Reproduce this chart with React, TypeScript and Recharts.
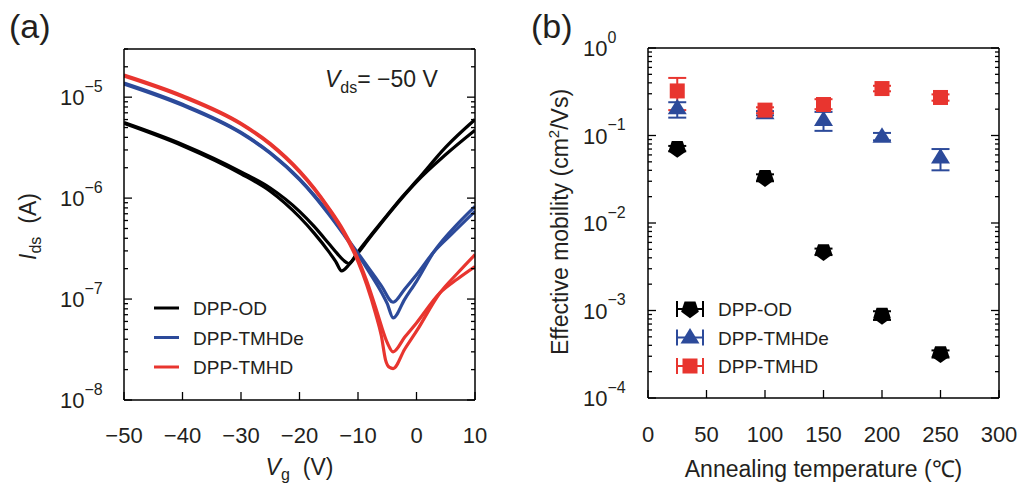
import React from 'react';
import { LineChart, Line, XAxis, YAxis, Legend, ScatterChart, Scatter, ErrorBar } from 'recharts';

const FONT = '"Liberation Sans", Arial, Helvetica, sans-serif';
const TXT = '#231f20';
const BLACK = '#000000';
const BLUE = '#2c4a9a';
const RED = '#e8352f';

// ---------------- Panel (a): transfer curves (Vds = -50 V) ----------------
const vgTicks = [-50, -40, -30, -20, -10, 0, 10];
const idsDecades = [1e-8, 1e-7, 1e-6, 1e-5];
const idsDomain: [number, number] = [1e-8, 3e-5];

// [Vg (V), Ids (A)], two sweeps per polymer
const odSweepA: [number, number][] = [
  [-50, 5.6e-6], [-40, 3.4e-6], [-30, 1.82e-6], [-25, 1.26e-6], [-20, 7.4e-7], [-17.5, 5.25e-7],
  [-15, 3.55e-7], [-13.5, 2.8e-7], [-12.5, 2.43e-7], [-11.6, 2.25e-7], [-10, 2.95e-7], [-7.5, 4.5e-7],
  [-5, 6.8e-7], [-2.5, 1.02e-6], [0, 1.48e-6], [5, 3.2e-6], [10, 6.0e-6],
];
const odSweepB: [number, number][] = [
  [-50, 5.5e-6], [-40, 3.3e-6], [-30, 1.74e-6], [-25, 1.17e-6], [-20, 6.5e-7], [-17.5, 4.5e-7],
  [-15, 2.95e-7], [-13.8, 2.35e-7], [-12.8, 1.9e-7], [-11.5, 2.2e-7], [-10, 2.85e-7], [-7.5, 4.4e-7],
  [-5, 6.7e-7], [-2.5, 1.0e-6], [0, 1.45e-6], [5, 2.7e-6], [10, 4.7e-6],
];
const tmhdeSweepA: [number, number][] = [
  [-50, 1.38e-5], [-40, 8.5e-6], [-30, 4.47e-6], [-25, 2.82e-6], [-20, 1.55e-6], [-17.5, 1.07e-6],
  [-15, 7.1e-7], [-12.5, 4.5e-7], [-10, 2.85e-7], [-8, 1.97e-7], [-6, 1.35e-7], [-4, 9.3e-8],
  [-2, 1.26e-7], [0, 1.74e-7], [3, 2.95e-7], [6, 4.4e-7], [10, 7.4e-7],
];
const tmhdeSweepB: [number, number][] = [
  [-50, 1.35e-5], [-40, 8.3e-6], [-30, 4.4e-6], [-25, 2.78e-6], [-20, 1.52e-6], [-17.5, 1.05e-6],
  [-15, 6.9e-7], [-12.5, 4.4e-7], [-10, 2.75e-7], [-8, 1.82e-7], [-6, 1.17e-7], [-5, 9.0e-8],
  [-4, 6.5e-8], [-2, 1.0e-7], [0, 1.5e-7], [3, 2.95e-7], [6, 4.8e-7], [10, 8.3e-7],
];
const tmhdSweepA: [number, number][] = [
  [-50, 1.66e-5], [-40, 1.035e-5], [-30, 5.5e-6], [-25, 3.47e-6], [-20, 1.86e-6], [-17.5, 1.26e-6],
  [-15, 8.0e-7], [-12.5, 4.8e-7], [-10, 2.5e-7], [-8.5, 1.51e-7], [-7, 8.3e-8], [-6, 5.4e-8],
  [-5, 3.7e-8], [-4, 3.0e-8], [-2, 4.2e-8], [0, 5.8e-8], [4, 1.15e-7], [7, 1.58e-7], [10, 2.1e-7],
];
const tmhdSweepB: [number, number][] = [
  [-50, 1.62e-5], [-40, 1.01e-5], [-30, 5.4e-6], [-25, 3.4e-6], [-20, 1.82e-6], [-17.5, 1.23e-6],
  [-15, 7.8e-7], [-12.5, 4.6e-7], [-10, 2.35e-7], [-8.5, 1.38e-7], [-7, 7.2e-8], [-6, 4.3e-8],
  [-5.3, 2.5e-8], [-4.6, 2.1e-8], [-4, 2.05e-8], [-2, 3.2e-8], [0, 4.8e-8], [4, 1.15e-7], [7, 1.8e-7],
  [10, 2.75e-7],
];

const polymerNames = ['DPP-OD', 'DPP-TMHDe', 'DPP-TMHD'];
const polymerColors = [BLACK, BLUE, RED];
const transferSweeps = [
  [odSweepA, odSweepB],
  [tmhdeSweepA, tmhdeSweepB],
  [tmhdSweepA, tmhdSweepB],
];

// ---------------- Panel (b): mobility vs annealing temperature ----------------
const tempTicks = [0, 50, 100, 150, 200, 250, 300];
const muDecades = [1e-4, 1e-3, 1e-2, 1e-1, 1];
const muDomain: [number, number] = [1e-4, 1];
const annealTemps = [25, 100, 150, 200, 250];

const odMu = [0.071, 0.033, 0.0047, 0.00088, 0.00032];
const odMuLow = [0.066, 0.030, 0.0043, 0.00078, 0.00029];
const odMuHigh = [0.076, 0.036, 0.0051, 0.00098, 0.00035];

const tmhdeMu = [0.205, 0.18, 0.15, 0.097, 0.056];
const tmhdeMuLow = [0.16, 0.17, 0.113, 0.088, 0.040];
const tmhdeMuHigh = [0.24, 0.19, 0.186, 0.107, 0.070];

const tmhdMu = [0.323, 0.195, 0.226, 0.344, 0.272];
const tmhdMuLow = [0.195, 0.18, 0.20, 0.32, 0.25];
const tmhdMuHigh = [0.455, 0.21, 0.26, 0.37, 0.295];

// ---------------- helpers ----------------
const logTicks = (decades: number[], lo: number, hi: number) => {
  const out: number[] = [];
  decades.forEach((d) => {
    for (let k = 1; k <= 9; k++) {
      const v = k * d;
      if (v >= lo * 0.999 && v <= hi * 1.001) out.push(v);
    }
  });
  return out;
};
const isDecade = (v: number) => {
  const e = Math.round(Math.log10(v));
  return Math.abs(v - Math.pow(10, e)) < 1e-3 * v;
};
const minusFmt = (v: number) => (v < 0 ? '\u2212' + Math.abs(v) : String(v));

const MAJOR = 8;
const MINOR = 4;
const TICK_W = 1.3;

function LeftLogTick(props: any) {
  const { x, y, payload, labelDx } = props;
  const v = payload.value;
  const major = isDecade(v);
  const e = Math.round(Math.log10(v));
  return (
    <g>
      <line x1={x} y1={y} x2={x + (major ? MAJOR : MINOR)} y2={y} stroke="#000" strokeWidth={TICK_W} />
      {major && (
        <text x={x - labelDx} y={y + 8} fontSize={22} fontFamily={FONT} fill={TXT}>
          10
          <tspan dy={-13.5} fontSize={16}>{minusFmt(e)}</tspan>
        </text>
      )}
    </g>
  );
}
function RightLogTick(props: any) {
  const { x, y, payload } = props;
  const major = isDecade(payload.value);
  return <line x1={x} y1={y} x2={x - (major ? MAJOR : MINOR)} y2={y} stroke="#000" strokeWidth={TICK_W} />;
}
function TopTick(props: any) {
  const { x, y } = props;
  return <line x1={x} y1={y} x2={x} y2={y + MAJOR} stroke="#000" strokeWidth={TICK_W} />;
}
function BottomTick(props: any) {
  const { x, y, payload, labelDy } = props;
  return (
    <g>
      <line x1={x} y1={y} x2={x} y2={y - MAJOR} stroke="#000" strokeWidth={TICK_W} />
      <text x={x} y={y + labelDy} textAnchor="middle" fontSize={22} fontFamily={FONT} fill={TXT}>
        {minusFmt(payload.value)}
      </text>
    </g>
  );
}

function XLabelA(props: any) {
  const vb = props.viewBox || { x: 124, y: 400, width: 351, height: 60 };
  return (
    <text x={vb.x + vb.width / 2} y={vb.y + 75} textAnchor="middle" fontSize={23} fontFamily={FONT} fill={TXT}>
      <tspan fontStyle="italic">V</tspan>
      <tspan fontSize={16} dy={5}>g</tspan>
      <tspan dy={-5} dx={13}>(V)</tspan>
    </text>
  );
}
function YLabelA(props: any) {
  const vb = props.viewBox || { x: 50, y: 49, width: 74, height: 351 };
  const cx = vb.x + vb.width - 88;
  const cy = vb.y + vb.height / 2 + 2;
  return (
    <text x={cx} y={cy} transform={`rotate(-90 ${cx} ${cy})`} textAnchor="middle" fontSize={23} fontFamily={FONT} fill={TXT}>
      <tspan fontStyle="italic">I</tspan>
      <tspan fontSize={16} dy={5}>ds</tspan>
      <tspan dy={-5} dx={13}>(A)</tspan>
    </text>
  );
}
function XLabelB(props: any) {
  const vb = props.viewBox || { x: 148, y: 398, width: 351, height: 60 };
  return (
    <text x={vb.x + vb.width / 2 + 0} y={vb.y + 79} textAnchor="middle" fontSize={23} fontFamily={FONT} fill={TXT}>
      Annealing temperature (℃)
    </text>
  );
}
function YLabelB(props: any) {
  const vb = props.viewBox || { x: 60, y: 48, width: 88, height: 350 };
  const cx = vb.x + vb.width - 80;
  const cy = vb.y + vb.height / 2 - 1;
  return (
    <text x={cx} y={cy} transform={`rotate(-90 ${cx} ${cy})`} textAnchor="middle" fontSize={23} fontFamily={FONT} fill={TXT}>
      Effective mobility (cm
      <tspan dy={-9} fontSize={15}>2</tspan>
      <tspan dy={9}>/Vs)</tspan>
    </text>
  );
}

function LegendA() {
  return (
    <svg width={200} height={90} style={{ display: 'block', overflow: 'visible' }}>
      {polymerNames.map((n, i) => {
        const y = 13 + i * 29.5;
        return (
          <g key={n}>
            <line x1={4} y1={y} x2={29} y2={y} stroke={polymerColors[i]} strokeWidth={3} />
            <text x={43} y={y + 7} fontSize={19} fontFamily={FONT} fill={TXT}>{n}</text>
          </g>
        );
      })}
    </svg>
  );
}

// marker shapes for panel (b)
function Pentagon({ cx, cy, fill, r = 9.3 }: any) {
  const pts = [0, 1, 2, 3, 4]
    .map((k) => {
      const a = ((90 + k * 72) * Math.PI) / 180;
      return `${cx + r * Math.cos(a)},${cy + r * Math.sin(a)}`;
    })
    .join(' ');
  return <polygon points={pts} fill={fill} />;
}
function Triangle({ cx, cy, fill }: any) {
  return <polygon points={`${cx},${cy - 9.5} ${cx + 9.5},${cy + 6} ${cx - 9.5},${cy + 6}`} fill={fill} />;
}
function Square({ cx, cy, fill }: any) {
  return <rect x={cx - 7.5} y={cy - 7.5} width={15} height={15} fill={fill} />;
}
const markerShapes = [Pentagon, Triangle, Square];

function LegendB() {
  return (
    <svg width={220} height={90} style={{ display: 'block', overflow: 'visible' }}>
      {polymerNames.map((n, i) => {
        const y = 14 + i * 28.5;
        const c = polymerColors[i];
        const M = markerShapes[i];
        return (
          <g key={n}>
            <line x1={7} y1={y} x2={33} y2={y} stroke={c} strokeWidth={2} />
            <line x1={7} y1={y - 8} x2={7} y2={y + 8} stroke={c} strokeWidth={2} />
            <line x1={33} y1={y - 8} x2={33} y2={y + 8} stroke={c} strokeWidth={2} />
            <M cx={20} cy={y} fill={c} />
            <text x={48} y={y + 7} fontSize={19} fontFamily={FONT} fill={TXT}>{n}</text>
          </g>
        );
      })}
    </svg>
  );
}

const frame = { stroke: '#000', strokeWidth: 1.5 };

function PanelA() {
  const yTicks = logTicks(idsDecades, idsDomain[0], idsDomain[1]);
  return (
    <LineChart width={500} height={486} margin={{ top: 48, right: 24, bottom: 26, left: 50 }}>
      <XAxis
        dataKey="v" type="number" domain={[-50, 10]} ticks={vgTicks} interval={0} allowDataOverflow
        height={60} tickSize={0} tickMargin={0} tickLine={false} axisLine={frame}
        tick={<BottomTick labelDy={43} />} label={<XLabelA />}
      />
      <XAxis
        xAxisId="top" orientation="top" type="number" domain={[-50, 10]} ticks={vgTicks} interval={0}
        allowDataOverflow height={1} tickSize={0} tickMargin={0} tickLine={false} axisLine={frame} tick={<TopTick />}
      />
      <YAxis
        type="number" scale="log" domain={idsDomain} ticks={yTicks} interval={0} allowDataOverflow
        width={74} tickSize={0} tickMargin={0} tickLine={false} axisLine={frame}
        tick={<LeftLogTick labelDx={64} />} label={<YLabelA />}
      />
      <YAxis
        yAxisId="right" orientation="right" type="number" scale="log" domain={idsDomain} ticks={yTicks}
        interval={0} allowDataOverflow width={1} tickSize={0} tickMargin={0} tickLine={false} axisLine={frame}
        tick={<RightLogTick />}
      />
      {transferSweeps.map((sweeps, i) =>
        sweeps.map((pts, j) => (
          <Line
            key={`${i}-${j}`}
            data={pts.map(([v, c]) => ({ v, i: c }))}
            dataKey="i"
            type="monotone"
            stroke={polymerColors[i]}
            strokeWidth={3.2}
            dot={false}
            activeDot={false}
            legendType="none"
            isAnimationActive={false}
          />
        ))
      )}
      <Legend
        layout="vertical" align="center" verticalAlign="middle"
        wrapperStyle={{ left: 150, top: 295, width: 200, height: 90 }}
        content={<LegendA />}
      />
    </LineChart>
  );
}

function PanelB() {
  const yTicks = logTicks(muDecades, muDomain[0], muDomain[1]);
  const sets = [
    [odMu, odMuLow, odMuHigh],
    [tmhdeMu, tmhdeMuLow, tmhdeMuHigh],
    [tmhdMu, tmhdMuLow, tmhdMuHigh],
  ];
  return (
    <ScatterChart width={520} height={486} margin={{ top: 47, right: 20, bottom: 28, left: 60 }}>
      <XAxis
        dataKey="x" type="number" domain={[0, 300]} ticks={tempTicks} interval={0} allowDataOverflow
        height={60} tickSize={0} tickMargin={0} tickLine={false} axisLine={frame}
        tick={<BottomTick labelDy={44} />} label={<XLabelB />}
      />
      <XAxis
        xAxisId="top" orientation="top" type="number" domain={[0, 300]} ticks={tempTicks} interval={0}
        allowDataOverflow height={1} tickSize={0} tickMargin={0} tickLine={false} axisLine={frame} tick={<TopTick />}
      />
      <YAxis
        dataKey="y" type="number" scale="log" domain={muDomain} ticks={yTicks} interval={0} allowDataOverflow
        width={88} tickSize={0} tickMargin={0} tickLine={false} axisLine={frame}
        tick={<LeftLogTick labelDx={65} />} label={<YLabelB />}
      />
      <YAxis
        yAxisId="right" orientation="right" type="number" scale="log" domain={muDomain} ticks={yTicks}
        interval={0} allowDataOverflow width={1} tickSize={0} tickMargin={0} tickLine={false} axisLine={frame}
        tick={<RightLogTick />}
      />
      {sets.map(([mu, lo, hi], i) => {
        const M = markerShapes[i];
        const data = annealTemps.map((t, k) => ({ x: t, y: mu[k], err: [mu[k] - lo[k], hi[k] - mu[k]] }));
        return (
          <Scatter
            key={polymerNames[i]}
            name={polymerNames[i]}
            data={data}
            fill={polymerColors[i]}
            legendType="none"
            isAnimationActive={false}
            shape={(p: any) => <M cx={p.cx} cy={p.cy} fill={polymerColors[i]} />}
          >
            <ErrorBar dataKey="err" direction="y" width={9} stroke={polymerColors[i]} strokeWidth={2} isAnimationActive={false} />
          </Scatter>
        );
      })}
      <Legend
        layout="vertical" align="center" verticalAlign="middle"
        wrapperStyle={{ left: 170, top: 295, width: 220, height: 90 }}
        content={<LegendB />}
      />
    </ScatterChart>
  );
}

export default function App() {
  return (
    <div style={{ position: 'absolute', left: 0, top: 0, width: 1020, height: 486, background: '#fff', fontFamily: FONT }}>
      <div style={{ position: 'absolute', left: 0, top: 0 }}>
        <PanelA />
      </div>
      <div style={{ position: 'absolute', left: 500, top: 0 }}>
        <PanelB />
      </div>
      <svg width={1020} height={486} style={{ position: 'absolute', left: 0, top: 0, pointerEvents: 'none' }}>
        <text x={9} y={38} fontSize={34} fontFamily={FONT} fill={TXT}>(a)</text>
        <text x={531} y={38} fontSize={34} fontFamily={FONT} fill={TXT}>(b)</text>
        <text x={325} y={87} fontSize={23} fontFamily={FONT} fill={TXT}>
          <tspan fontStyle="italic">V</tspan>
          <tspan fontSize={16} dy={6}>ds</tspan>
          <tspan dy={-6}>= −50 V</tspan>
        </text>
      </svg>
    </div>
  );
}
